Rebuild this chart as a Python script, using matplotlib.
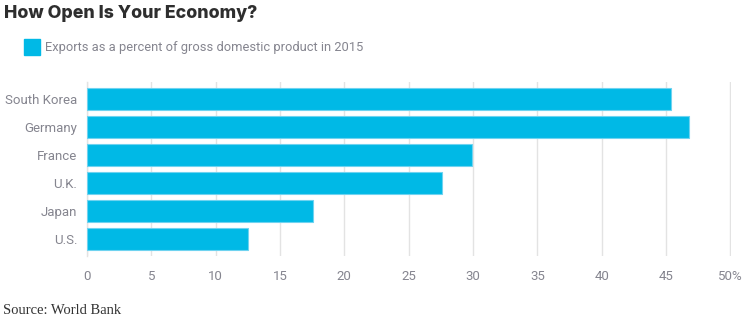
import matplotlib
matplotlib.use("Agg")
import matplotlib.pyplot as plt
from matplotlib.patches import Rectangle

countries = ["South Korea", "Germany", "France", "U.K.", "Japan", "U.S."]
exports_pct = [45.4, 46.8, 29.9, 27.6, 17.6, 12.5]
xticks = [0, 5, 10, 15, 20, 25, 30, 35, 40, 45, 50]
xticklabels = ["0", "5", "10", "15", "20", "25", "30", "35", "40", "45", "50%"]

W, H = 754, 322
fig = plt.figure(figsize=(W / 100, H / 100), dpi=100)
left, right, top, bottom = 87, 731, 82, 256
ax = fig.add_axes([left / W, 1 - bottom / H, (right - left) / W, (bottom - top) / H])

bar_color = "#00B9E6"
edge_color = "#6FD3F0"
label_color = "#85858F"
grid_color = "#E3E3E3"

ypos = list(range(len(countries)))
ax.barh(ypos, exports_pct, height=0.78, color=bar_color, edgecolor=edge_color,
        linewidth=0.8, zorder=3)
ax.set_ylim(5.6, -0.6)
ax.set_xlim(0, 50.05)
ax.set_yticks(ypos)
ax.set_yticklabels(countries, fontsize=9.5, color=label_color, family="Roboto")
ax.set_xticks(xticks)
ax.set_xticklabels(xticklabels, fontsize=9.5, color=label_color, family="Roboto")
ax.tick_params(axis="y", length=0, pad=7)
ax.tick_params(axis="x", length=0, pad=10)
ax.grid(axis="x", color=grid_color, linewidth=1, zorder=0)
for s in ["top", "right", "bottom"]:
    ax.spines[s].set_visible(False)
ax.spines["left"].set_color(grid_color)
ax.spines["left"].set_linewidth(1)

fig.text(4 / W, 1 - 14 / H, "How Open Is Your Economy?", fontsize=12.8,
         fontweight=800, color="#2E2E2E", family="Inter", va="center", ha="left")
fig.patches.append(Rectangle((24 / W, 1 - 55 / H), 16 / W, 16 / H,
                             transform=fig.transFigure, color=bar_color))
fig.text(45 / W, 1 - 47 / H, "Exports as a percent of gross domestic product in 2015",
         fontsize=9.3, color=label_color, family="Roboto",
         va="center", ha="left")
fig.text(3 / W, 1 - 311 / H, "Source: World Bank", fontsize=10.5, color="#333333",
         family="Liberation Serif", va="center", ha="left")

fig.savefig("out.png", dpi=100)
